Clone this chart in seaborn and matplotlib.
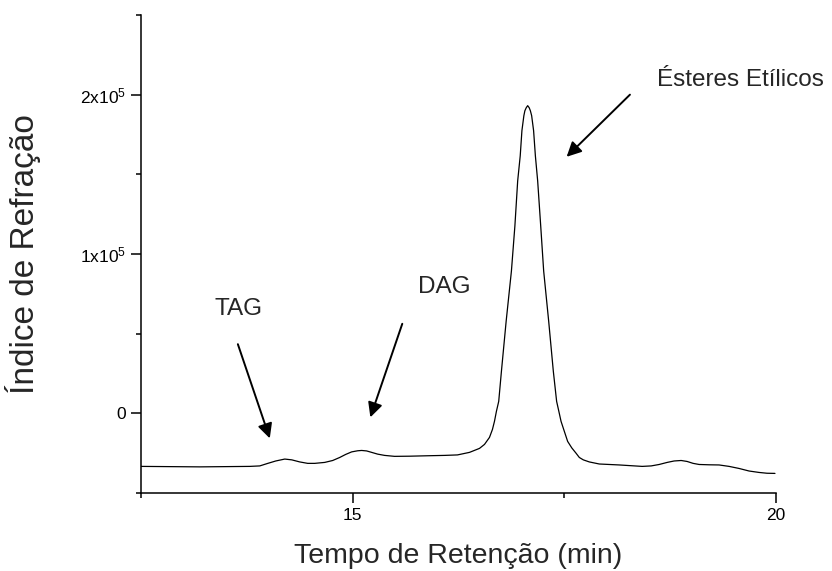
import matplotlib
matplotlib.use("Agg")
import matplotlib.pyplot as plt
from matplotlib.ticker import FixedLocator, FixedFormatter
import numpy as np
import pandas as pd
import seaborn as sns

# Retention time (min) and refractive-index signal (x 1e5)
tempo = [12.500, 13.196, 13.785, 13.903, 13.998, 14.092, 14.198, 14.281, 14.375,
         14.469, 14.552, 14.670, 14.764, 14.847, 14.917, 14.988, 15.059, 15.106,
         15.165, 15.224, 15.295, 15.377, 15.495, 15.672, 15.908, 16.085, 16.238,
         16.380, 16.498, 16.557, 16.616, 16.651, 16.675, 16.698, 16.725, 16.757,
         16.813, 16.875, 16.916, 16.949, 16.979, 16.999, 17.022, 17.034, 17.050,
         17.067, 17.085, 17.099, 17.114, 17.137, 17.158, 17.185, 17.221, 17.256,
         17.315, 17.370, 17.409, 17.435, 17.461, 17.500, 17.539, 17.588, 17.638,
         17.677, 17.724, 17.795, 17.913, 18.149, 18.420, 18.526, 18.620, 18.715,
         18.797, 18.880, 18.950, 19.021, 19.092, 19.210, 19.328, 19.446, 19.564,
         19.682, 19.800, 19.894, 19.988]
sinal = [-0.333, -0.336, -0.333, -0.330, -0.314, -0.299, -0.287, -0.292, -0.305,
         -0.314, -0.314, -0.308, -0.296, -0.277, -0.258, -0.242, -0.235, -0.233,
         -0.236, -0.245, -0.256, -0.264, -0.270, -0.269, -0.266, -0.264, -0.261,
         -0.245, -0.220, -0.195, -0.151, -0.101, -0.050, 0.013, 0.075, 0.264,
         0.579, 0.893, 1.176, 1.459, 1.616, 1.774, 1.868, 1.899, 1.918,
         1.931, 1.918, 1.899, 1.868, 1.774, 1.616, 1.459, 1.176, 0.893,
         0.579, 0.264, 0.075, 0.013, -0.050, -0.113, -0.176, -0.217, -0.250,
         -0.277, -0.292, -0.305, -0.318, -0.324, -0.333, -0.330, -0.321, -0.308,
         -0.299, -0.296, -0.302, -0.314, -0.321, -0.323, -0.324, -0.333, -0.346,
         -0.362, -0.371, -0.376, -0.377]

y_ticks = [0, 1e5, 2e5]
y_tick_labels = ["0", "1x10$^5$", "2x10$^5$"]
x_ticks = [15, 20]
x_tick_labels = ["15", "20"]

picos = ["TAG", "DAG", "Ésteres Etílicos"]

sns.set_style("ticks")
plt.rcParams["font.family"] = ["Liberation Sans", "DejaVu Sans"]
plt.rcParams["mathtext.fontset"] = "custom"
plt.rcParams["mathtext.rm"] = "Liberation Sans"
plt.rcParams["mathtext.default"] = "regular"

df = pd.DataFrame({"tempo": tempo, "sinal": np.array(sinal) * 1e5})

fig = plt.figure(figsize=(8.32, 5.71), dpi=100)
ax = fig.add_axes([141 / 832, 1 - 493 / 571, (776 - 141) / 832, (493 - 15) / 571])

sns.lineplot(data=df, x="tempo", y="sinal", ax=ax, color="black", linewidth=0.9,
             sort=False, estimator=None)

ax.set_xlim(12.5, 20)
ax.set_ylim(-0.5e5, 2.5e5)

ax.xaxis.set_major_locator(FixedLocator(x_ticks))
ax.xaxis.set_major_formatter(FixedFormatter(x_tick_labels))
ax.xaxis.set_minor_locator(FixedLocator([12.5, 17.5]))
ax.yaxis.set_major_locator(FixedLocator(y_ticks))
ax.yaxis.set_major_formatter(FixedFormatter(y_tick_labels))
ax.yaxis.set_minor_locator(FixedLocator([-0.5e5, 0.5e5, 1.5e5, 2.5e5]))

ax.tick_params(which="major", direction="out", length=7, width=1.1,
               labelsize=12.5, colors="black", pad=4)
ax.tick_params(which="minor", direction="out", length=3.5, width=1.1, colors="black")

for side in ("top", "right"):
    ax.spines[side].set_visible(False)
for side in ("left", "bottom"):
    ax.spines[side].set_linewidth(1.1)
    ax.spines[side].set_color("black")

ax.set_xlabel("Tempo de Retenção (min)", fontsize=20.5)
ax.xaxis.set_label_coords(0.5, -0.105)
ax.set_ylabel("Índice de Refração", fontsize=24)
ax.yaxis.set_label_coords(-0.158, 0.5)

seta = dict(arrowstyle="-|>", color="black", lw=1.4, mutation_scale=22,
            shrinkA=0, shrinkB=0)
ax.annotate("", xy=(14.021, -0.157e5), xytext=(13.644, 0.434e5), arrowprops=seta)
ax.annotate("", xy=(15.209, -0.025e5), xytext=(15.586, 0.562e5), arrowprops=seta)
ax.annotate("", xy=(17.527, 1.610e5), xytext=(18.275, 2.000e5), arrowprops=seta)

ax.text(13.656, 0.657e5, picos[0], fontsize=17.5, ha="center", va="center")
ax.text(16.085, 0.792e5, picos[1], fontsize=17.5, ha="center", va="center")
ax.text(19.58, 2.094e5, picos[2], fontsize=17.5, ha="center", va="center",
        clip_on=False)

fig.savefig("out.png", dpi=100)
